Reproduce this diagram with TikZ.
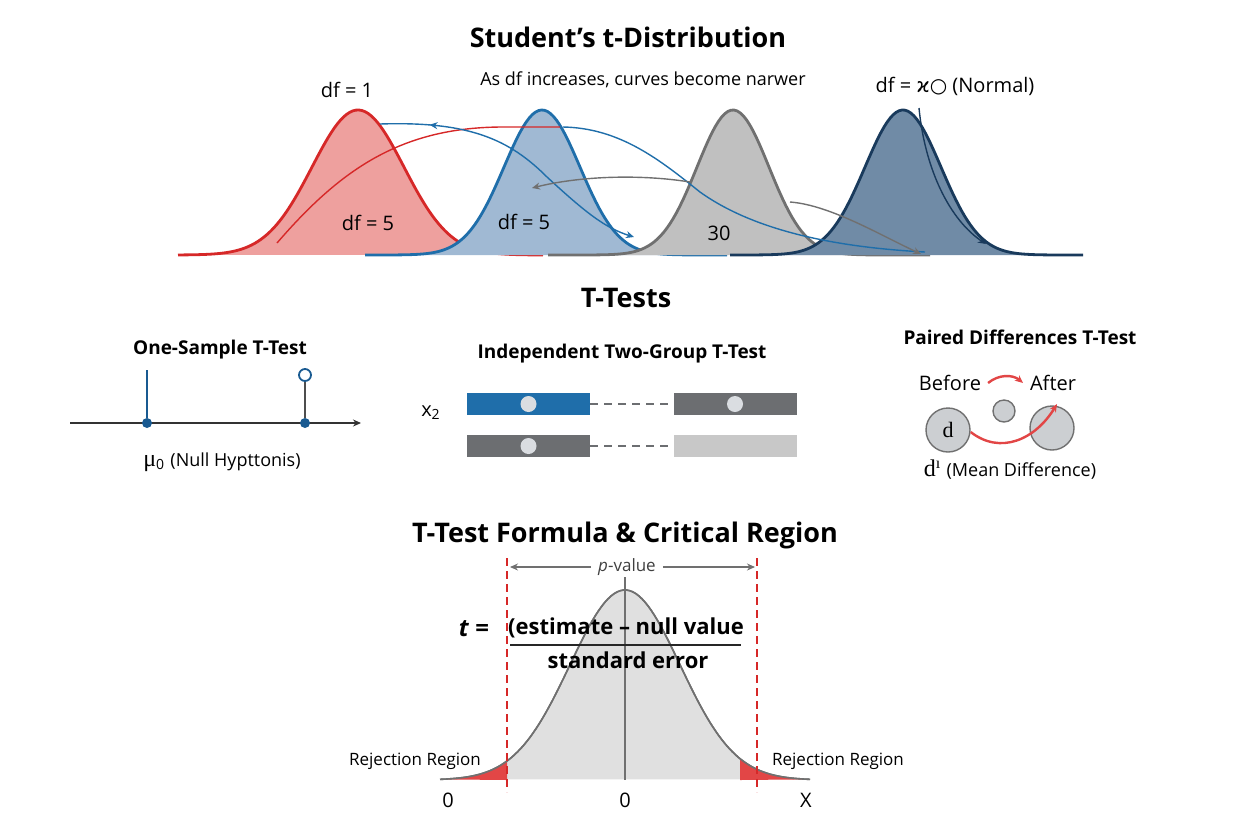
\documentclass[tikz,border=0pt]{standalone}
\usepackage{fontspec}
\setmainfont{Open Sans}
\newfontfamily\seriffont{Liberation Serif}
\newfontfamily\symfont{DejaVu Sans}
\usetikzlibrary{arrows.meta,decorations.markings}

\definecolor{redline}{RGB}{214,40,40}
\definecolor{redfill}{RGB}{238,160,158}
\definecolor{blueline}{RGB}{31,110,170}
\definecolor{bluefill}{RGB}{160,185,211}
\definecolor{grayline}{RGB}{112,112,112}
\definecolor{grayfill}{RGB}{192,192,192}
\definecolor{navyline}{RGB}{25,58,92}
\definecolor{navyfill}{RGB}{112,139,166}
\definecolor{dotblue}{RGB}{25,90,145}
\definecolor{bargray}{RGB}{108,110,113}
\definecolor{barlight}{RGB}{200,200,200}
\definecolor{knob}{RGB}{218,221,225}
\definecolor{bellfill}{RGB}{224,224,224}
\definecolor{rejred}{RGB}{226,70,70}

\begin{document}
\begin{tikzpicture}[x=0.5pt,y=-0.5pt,
    title/.style={font=\bfseries\fontsize{13.5}{16}\selectfont},
    subtitle/.style={font=\bfseries\fontsize{9.5}{11}\selectfont},
    lbl/.style={font=\fontsize{10}{12}\selectfont},
    note/.style={font=\fontsize{9}{11}\selectfont},
    small/.style={font=\fontsize{8.5}{10}\selectfont},
    bell/.style={line width=1.4pt},
    con/.style={line width=0.7pt},
    tip/.style={-{Stealth[length=4pt,width=3.5pt]}},
    dot/.style={circle,fill=dotblue,inner sep=0pt,minimum size=5pt},
    bar/.style={inner sep=0pt,minimum width=61.5pt,minimum height=11pt},
    knobdot/.style={circle,fill=knob,inner sep=0pt,minimum size=8pt},
    pairc/.style={circle,draw=grayline,fill=knob!85!gray,line width=0.7pt,inner sep=0pt}]
  \useasboundingbox (0,0) rectangle (1248,832);

  % Student's t-distribution
  \node[title] (ttl1) at (628,37) {Student’s t-Distribution};
  \node[note] (trend) at (643,80) {As df increases, curves become narwer};
  \node[lbl] (df1) at (347,90) {df = 1};
  \node[lbl] (dfinf) at (955,86) {df = {\symfont ϰ○} (Normal)};

  \filldraw[bell,draw=redline,fill=redfill] plot[domain=178:543,samples=120]
    (\x,{255-145*exp(-0.5*((\x-358)/46)^2)});
  \filldraw[bell,draw=blueline,fill=bluefill] plot[domain=365:727,samples=120]
    (\x,{255-145*exp(-0.5*((\x-542)/38)^2)});
  \filldraw[bell,draw=grayline,fill=grayfill] plot[domain=548:930,samples=120]
    (\x,{255-145*exp(-0.5*((\x-733)/36)^2)});
  \filldraw[bell,draw=navyline,fill=navyfill] plot[domain=730:1083,samples=120]
    (\x,{255-145*exp(-0.5*((\x-903)/38)^2)});

  \node[lbl] (df5a) at (368,223) {df = 5};
  \node[lbl] (df5b) at (524,222) {df = 5};
  \node[lbl] (df30) at (719,233) {30};

  % connectors between the curves
  \coordinate (ra) at (277,243);
  \coordinate (rb) at (560,127);
  \coordinate (aa) at (380,124);
  \coordinate (ab) at (634,237);
  \coordinate (ba) at (563,127);
  \coordinate (bb) at (925,252);
  \coordinate (ca) at (690,182);
  \coordinate (cb) at (532,188);
  \coordinate (da) at (790,202);
  \coordinate (db) at (921,254);
  \coordinate (ea) at (919,108);
  \coordinate (eb) at (986,244);
  \draw[con,redline] (ra) .. controls (340,170) and (400,128) .. (500,127) -- (rb);
  \draw[con,blueline,tip,decoration={markings,
      mark=at position 0.2 with {\arrow{Stealth[length=4pt,width=3.5pt,reversed]}}},postaction=decorate]
    (aa) .. controls (470,121) and (510,140) .. (547,177)
    .. controls (585,212) and (605,228) .. (ab);
  \draw[con,blueline] (ba) .. controls (620,128) and (660,160) .. (700,192)
    .. controls (760,235) and (850,248) .. (bb);
  \draw[con,grayline,tip] (ca) .. controls (640,174) and (580,176) .. (cb);
  \draw[con,grayline,tip] (da) .. controls (830,205) and (880,235) .. (db);
  \draw[con,navyline,tip] (ea) .. controls (925,170) and (950,220) .. (eb);

  % T-tests
  \node[title] (ttl2) at (626,298) {T-Tests};

  % one sample
  \node[subtitle] (one) at (220,350) {One-Sample T-Test};
  \coordinate (axl) at (70,423);
  \coordinate (axr) at (361,423);
  \draw[line width=0.7pt,black!80,tip] (axl) -- (axr);
  \coordinate (mutop) at (147,370);
  \node[dot] (mu) at (147,423) {};
  \draw[line width=0.9pt,dotblue] (mu) -- (mutop);
  \node[dot] (xbar) at (305,423) {};
  \node[circle,draw=dotblue,fill=white,line width=0.9pt,inner sep=0pt,minimum size=6pt] (xtop) at (305,375) {};
  \draw[line width=0.8pt,grayline!70!black] (xbar) -- (xtop);
  \node[lbl] (mulbl) at (222,462) {{\seriffont\fontsize{12}{12}\selectfont μ}\textsubscript{0} {\small(Null Hypttonis)}};

  % independent groups
  \node[subtitle] (indep) at (622,354) {Independent Two-Group T-Test};
  \node[lbl] (xtwo) at (431,413) {x\textsubscript{2}};
  \node[bar,fill=blueline] (g1a) at (528.5,404) {};
  \node[bar,fill=bargray] (g1b) at (735,404) {};
  \node[bar,fill=bargray] (g2a) at (528.5,446) {};
  \node[bar,fill=barlight] (g2b) at (735,446) {};
  \draw[line width=1pt,bargray,dash pattern=on 4pt off 3pt] (g1a.east) -- (g1b.west);
  \draw[line width=1pt,bargray,dash pattern=on 4pt off 3pt] (g2a.east) -- (g2b.west);
  \node[knobdot] at (g1a) {};
  \node[knobdot] at (g1b) {};
  \node[knobdot] at (g2a) {};

  % paired differences
  \node[subtitle] (paired) at (1020,337) {Paired Differences T-Test};
  \node[lbl] (before) at (950,383) {Before};
  \node[lbl] (after) at (1053,383) {After};
  \draw[line width=1.2pt,rejred,tip] (before.east) to[bend left=40] (after.west);
  \node[pairc,minimum size=22pt,font=\seriffont\fontsize{11}{12}\selectfont] (dcirc) at (948,430) {d};
  \node[pairc,minimum size=11pt] (mid) at (1004,411) {};
  \node[pairc,minimum size=22pt] (aftc) at (1052,428) {};
  \coordinate (dtip) at (1057,404);
  \draw[line width=1.2pt,rejred,tip] ([yshift=-1pt]dcirc.east) .. controls (1000,455) and (1035,440) .. (dtip);
  \node[lbl] (dbar) at (1010,470) {{\seriffont\fontsize{12}{12}\selectfont d\textsuperscript{ı}} {\small(Mean Difference)}};

  % formula and critical region
  \node[title] (ttl3) at (625,535) {T-Test Formula \& Critical Region};
  \filldraw[line width=0.8pt,draw=grayline,fill=bellfill] plot[domain=440:810,samples=120]
    (\x,{780-190*exp(-0.5*((\x-625)/55)^2)});
  \fill[rejred] plot[domain=440:507,samples=40] (\x,{780-190*exp(-0.5*((\x-625)/55)^2)})
    -- (507,780) -- cycle;
  \fill[rejred] (740,780) -- plot[domain=740:810,samples=40] (\x,{780-190*exp(-0.5*((\x-625)/55)^2)})
    -- cycle;
  \draw[line width=0.8pt,grayline] plot[domain=440:810,samples=120]
    (\x,{780-190*exp(-0.5*((\x-625)/55)^2)});
  \coordinate (ctop) at (625,577);
  \coordinate (cbot) at (625,780);
  \draw[line width=0.7pt,grayline] (ctop) -- (cbot);
  \coordinate (cl1) at (507,558);
  \coordinate (cl2) at (507,792);
  \coordinate (cr1) at (757,558);
  \coordinate (cr2) at (757,792);
  \draw[line width=0.8pt,redline,dash pattern=on 4pt off 2.5pt] (cl1) -- (cl2);
  \draw[line width=0.8pt,redline,dash pattern=on 4pt off 2.5pt] (cr1) -- (cr2);

  \node[small,text=black!75] (pval) at (627,567) {\textit{p}-value};
  \coordinate (pl) at (510,567);
  \coordinate (pr) at (755,567);
  \draw[line width=0.6pt,grayline,tip] (pval.west) -- (pl);
  \draw[line width=0.6pt,grayline,tip] (pval.east) -- (pr);

  \node[font=\bfseries\fontsize{12}{14}\selectfont] (teq) at (474,629) {\textit{t} =};
  \node[font=\bfseries\fontsize{11}{13}\selectfont] (num) at (626,628) {(estimate – null value};
  \node[font=\bfseries\fontsize{11}{13}\selectfont] (den) at (628,660) {standard error};
  \coordinate (fl) at (510,645);
  \coordinate (fr) at (741,645);
  \draw[line width=0.9pt,black!85] (fl) -- (fr);

  \node[small] (rejl) at (415,761) {Rejection Region};
  \node[small] (rejr) at (838,761) {Rejection Region};
  \node[lbl] (zl) at (448,800) {0};
  \node[lbl] (zc) at (625,800) {0};
  \node[lbl] (xr) at (806,800) {X};
\end{tikzpicture}
\end{document}
